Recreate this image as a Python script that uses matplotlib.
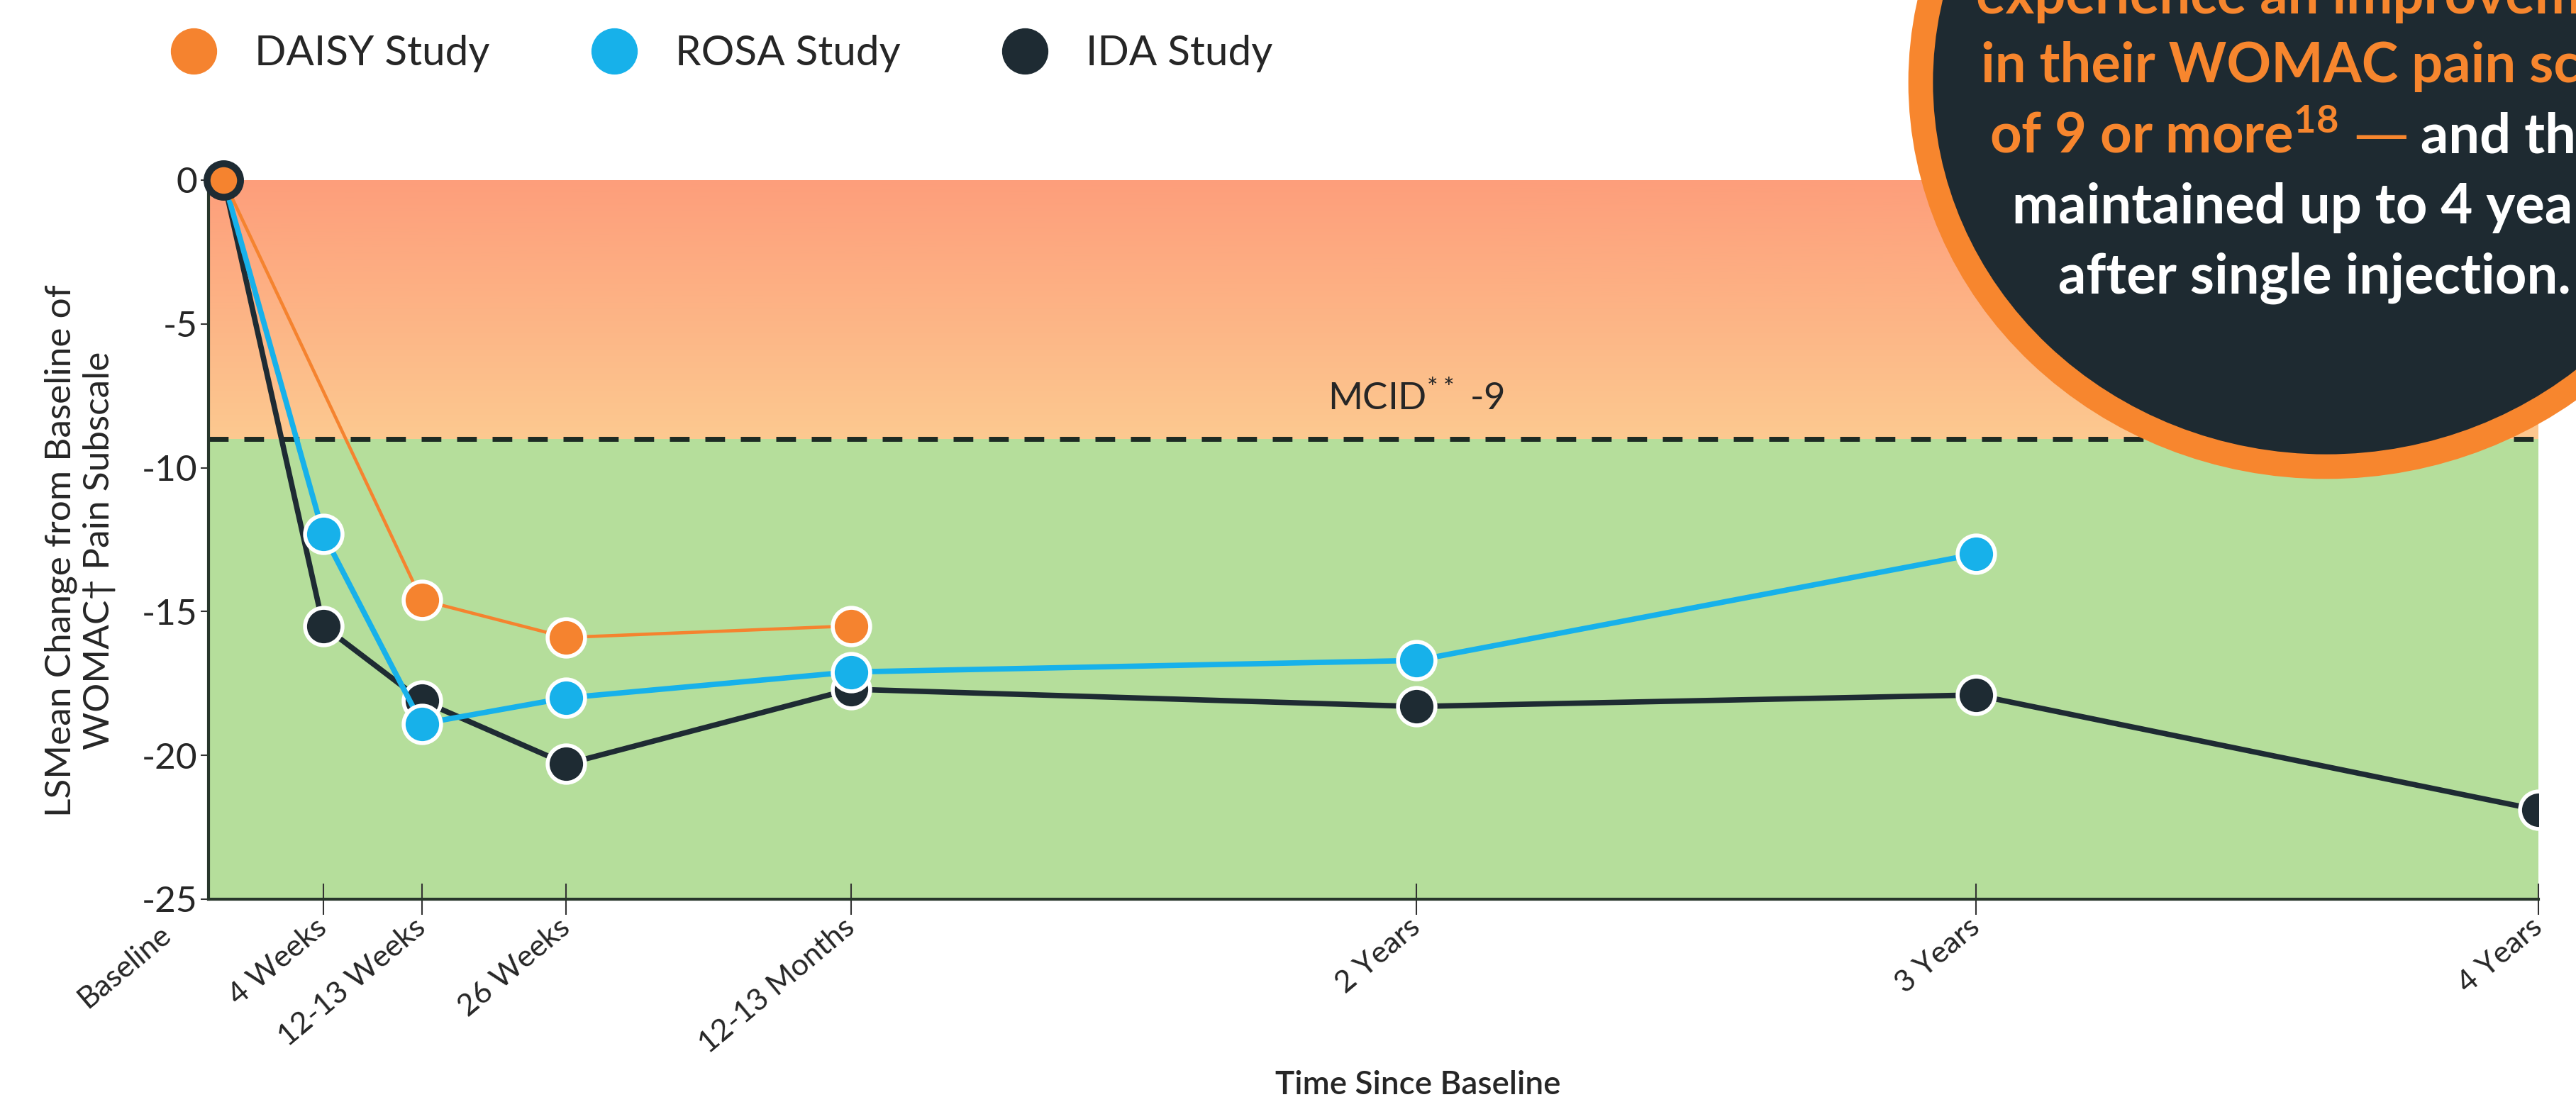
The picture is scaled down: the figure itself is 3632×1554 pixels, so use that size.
import matplotlib.pyplot as plt
import matplotlib.transforms as mtransforms
import numpy as np
from matplotlib.colors import LinearSegmentedColormap
from matplotlib.lines import Line2D
from matplotlib.patches import Ellipse
from matplotlib.text import Annotation

plt.rcParams['font.family'] = ['Lato', 'DejaVu Sans']
plt.rcParams['mathtext.default'] = 'regular'

# time axis (custom spacing as in the original chart)
time_labels = ['Baseline', '4 Weeks', '12-13 Weeks', '26 Weeks',
               '12-13 Months', '2 Years', '3 Years', '4 Years']
time_pos = [0, 0.177, 0.352, 0.609, 1.115, 2.12, 3.115, 4.115]

# LSMean change from baseline, None = not measured
daisy = [0, None, -14.6, -15.9, -15.5, None, None, None]
rosa = [0, -12.3, -18.9, -18.0, -17.1, -16.7, -13.0, None]
ida = [0, -15.5, -18.1, -20.3, -17.7, -18.3, -17.9, -21.9]

series_names = ['DAISY Study', 'ROSA Study', 'IDA Study']
mcid = -9
y_ticks = [0, -5, -10, -15, -20, -25]

callout_lines = ['experience an improvement',
                 'in their WOMAC pain score',
                 None,
                 'maintained up to 4 years',
                 'after single injection.']
callout_orange = 'of 9 or more$^{18}$ \u2014'
callout_white = ' and this was'

c_daisy = '#f5832f'
c_rosa = '#17b1ea'
c_ida = '#1e2b33'
c_green = '#b5de9b'
c_dark = '#1e2a31'
c_ring = '#f7862e'
c_text = '#262626'

W, H = 3632, 1554
fig = plt.figure(figsize=(W / 100, H / 100), dpi=100)
ax = fig.add_axes([294 / W, 1 - 1268 / H, (3579 - 294) / W, (1268 - 254) / H])
xmin, xmax = -0.027, 4.115

# background zones: warm gradient above MCID, green below
warm = LinearSegmentedColormap.from_list('warm', ['#fcc990', '#fdb385', '#fd9e7b'])
ax.imshow(np.linspace(0, 1, 256).reshape(-1, 1), cmap=warm, origin='lower',
          aspect='auto', extent=(xmin, xmax, mcid, 0), zorder=0)
ax.axhspan(-25, mcid, color=c_green, lw=0, zorder=0)
ax.axhline(mcid, color='#1d2b24', lw=5, ls=(0, (4, 3.2)), zorder=1)
ax.text(time_pos[5], -8.0, 'MCID$^{**}$ -9', ha='center', va='baseline',
        fontsize=38, color=c_text, zorder=2)


def draw_series(vals, color, lw, z):
    x = [t for t, v in zip(time_pos, vals) if v is not None]
    y = [v for v in vals if v is not None]
    ax.plot(x, y, color=color, lw=lw, zorder=z, solid_capstyle='round')
    ax.plot(x[1:], y[1:], ls='none', marker='o', ms=38, mfc=color,
            mec='white', mew=4, zorder=z + 0.5)


draw_series(ida, c_ida, 5.5, 3)
draw_series(rosa, c_rosa, 5.5, 4)
draw_series(daisy, c_daisy, 3.3, 5)
# shared baseline point
ax.plot(time_pos[0], daisy[0], ls='none', marker='o', ms=34, mfc=c_daisy,
        mec=c_ida, mew=7, clip_on=False, zorder=10)

ax.set_xlim(xmin, xmax)
ax.set_ylim(-25, 0)

ax.set_xticks(time_pos)
ax.set_xticklabels(time_labels, rotation=40, ha='right', va='center',
                   rotation_mode='anchor', fontsize=31, color=c_text)
ax.tick_params(axis='x', direction='inout', length=32, width=1.5,
               color='#333333', pad=9)
ax.xaxis.get_major_ticks()[0].tick1line.set_visible(False)
base_lbl = ax.get_xticklabels()[0]
base_lbl.set_transform(base_lbl.get_transform() +
                       mtransforms.ScaledTranslation(-0.8, -0.1, fig.dpi_scale_trans))

ax.set_yticks(y_ticks)
ax.set_yticklabels([str(v) for v in y_ticks], fontsize=37, color=c_text)
ax.tick_params(axis='y', direction='out', length=8, width=1.5,
               color='#333333', pad=3)

for side in ['top', 'right']:
    ax.spines[side].set_visible(False)
for side in ['left', 'bottom']:
    ax.spines[side].set_color('#27362b')
    ax.spines[side].set_linewidth(3)

ax.set_ylabel('LSMean Change from Baseline of\nWOMAC\u2020 Pain Subscale',
              fontsize=37, color=c_text, linespacing=1.2)
ax.yaxis.set_label_coords(-0.040, 0.485)
ax.set_xlabel('Time Since Baseline', fontsize=33, color=c_text,
              fontweight='semibold')
ax.xaxis.set_label_coords(0.519, -0.238)

# legend
handles = [Line2D([], [], ls='none', marker='o', ms=46, mfc=c, mec=c)
           for c in [c_daisy, c_rosa, c_ida]]
leg = fig.legend(handles, series_names, loc='center left',
                 bbox_to_anchor=(244 / W, 1 - 76 / H), ncol=3, frameon=False,
                 fontsize=42, handlelength=1.0, handletextpad=0.98,
                 columnspacing=2.5, borderpad=0, borderaxespad=0)
for t in leg.get_texts():
    t.set_color(c_text)

# callout bubble, partly outside the figure like the original
fig.add_artist(Ellipse((3280 / W, 1 - 116 / H), 2 * 572 / W, 2 * 542 / H,
                       transform=fig.transFigure, fc=c_dark, ec=c_ring,
                       lw=25, zorder=5))
line_x = [2786, 2793, 2805, 2837, 2902]
line_base = [19, 116, 216, 315, 414]
for i, line in enumerate(callout_lines):
    xl, yb = line_x[i] / W, 1 - line_base[i] / H
    if line is None:
        part = fig.text(xl, yb, callout_orange, ha='left', va='baseline',
                        fontsize=56, fontweight='bold', color=c_ring, zorder=6)
        fig.add_artist(Annotation(callout_white, xy=(1, yb),
                                  xycoords=(part, 'figure fraction'),
                                  ha='left', va='baseline', fontsize=56,
                                  fontweight='bold', color='white', zorder=6))
        continue
    color = c_ring if i < 2 else 'white'
    fig.text(xl, yb, line, ha='left', va='baseline', fontsize=56,
             fontweight='bold', color=color, zorder=6)

fig.savefig('out.png', dpi=100)
